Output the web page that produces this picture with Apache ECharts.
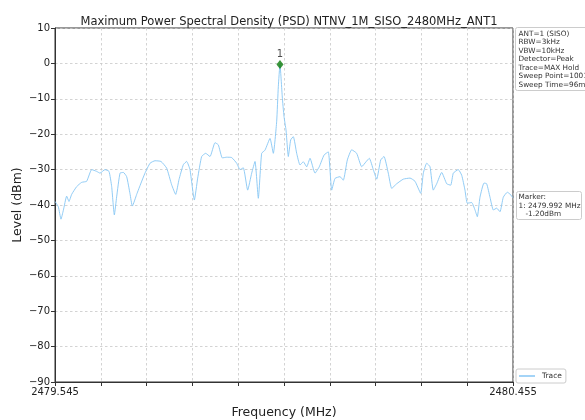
<!DOCTYPE html>
<html>
<head>
<meta charset="utf-8">
<script src="https://cdn.jsdelivr.net/npm/echarts@6/dist/echarts.min.js"></script>
<style>
  html, body { margin: 0; padding: 0; background: #ffffff; }
  #psd-chart { width: 585px; height: 420px; }
</style>
</head>
<body>
<div id="psd-chart"></div>
<script>
// trace (MAX Hold), frequency in MHz, level in dBm
const freqMHz = [
  2479.5450, 2479.5516, 2479.5569, 2479.5616, 2479.5682, 2479.5728, 2479.5781, 2479.5881,
  2479.5980, 2479.6079, 2479.6179, 2479.6278, 2479.6344, 2479.6443, 2479.6523, 2479.6576,
  2479.6629, 2479.6675, 2479.6742, 2479.6808, 2479.6874, 2479.6940, 2479.6987, 2479.7073,
  2479.7159, 2479.7238, 2479.7338, 2479.7437, 2479.7556, 2479.7669, 2479.7768, 2479.7848,
  2479.7914, 2479.8000, 2479.8066, 2479.8132, 2479.8219, 2479.8285, 2479.8364, 2479.8444,
  2479.8530, 2479.8629, 2479.8695, 2479.8775, 2479.8861, 2479.8960, 2479.9060, 2479.9126,
  2479.9192, 2479.9278, 2479.9358, 2479.9424, 2479.9490, 2479.9556, 2479.9623, 2479.9722,
  2479.9788, 2479.9854, 2479.9887, 2479.9920, 2479.9966, 2480.0000, 2480.0040, 2480.0086,
  2480.0133, 2480.0185, 2480.0252, 2480.0318, 2480.0384, 2480.0451, 2480.0517, 2480.0616,
  2480.0701, 2480.0795, 2480.0880, 2480.0948, 2480.1013, 2480.1113, 2480.1178, 2480.1258,
  2480.1345, 2480.1444, 2480.1544, 2480.1629, 2480.1695, 2480.1774, 2480.1842, 2480.1921,
  2480.1987, 2480.2072, 2480.2140, 2480.2239, 2480.2370, 2480.2504, 2480.2603, 2480.2716,
  2480.2768, 2480.2835, 2480.2901, 2480.2966, 2480.3034, 2480.3133, 2480.3233, 2480.3312,
  2480.3364, 2480.3463, 2480.3531, 2480.3596, 2480.3642, 2480.3729, 2480.3795, 2480.3841,
  2480.3894, 2480.3974, 2480.4027, 2480.4093, 2480.4159, 2480.4226, 2480.4292, 2480.4357,
  2480.4437, 2480.4490, 2480.4550
]
const levelDbm = [
  -39.0, -40.5, -44.0, -41.5, -37.5, -39.0, -37.0, -34.8,
  -33.6, -33.3, -30.0, -30.5, -31.0, -30.0, -30.5, -34.8,
  -42.8, -37.7, -31.0, -30.8, -32.0, -36.8, -40.3, -37.0,
  -33.8, -31.0, -28.2, -27.5, -27.7, -29.6, -34.3, -37.0,
  -32.8, -28.6, -27.7, -30.0, -38.6, -32.4, -26.3, -25.4,
  -26.3, -22.4, -23.0, -26.7, -26.5, -26.6, -28.2, -30.0,
  -29.5, -35.8, -31.0, -27.7, -38.1, -25.4, -24.5, -21.2,
  -25.4, -16.5, -6.6, -0.3, -9.5, -15.0, -18.8, -26.3,
  -21.6, -20.7, -25.4, -28.7, -27.8, -29.2, -26.8, -31.0,
  -29.2, -25.9, -25.0, -35.8, -32.5, -32.0, -33.0, -27.3,
  -24.4, -25.4, -29.2, -27.8, -26.8, -30.0, -32.7, -27.3,
  -26.3, -31.0, -35.3, -34.0, -32.7, -32.4, -33.3, -36.7,
  -31.0, -28.2, -29.2, -35.8, -34.0, -30.8, -34.0, -34.4,
  -31.0, -30.0, -31.6, -35.8, -39.5, -39.3, -41.4, -43.3,
  -37.8, -33.8, -34.0, -37.8, -41.4, -40.9, -41.9, -37.8,
  -36.4, -36.9, -38.0
]
const startMHz = 2479.545
const stopMHz = 2480.455
const levelMin = -90
const levelMax = 10
const levelStep = 10
const markerFreq = 2479.992
const markerLevel = -0.3 // where the diamond sits in the picture
const infoLines = [
  'ANT=1 (SISO)',
  'RBW=3kHz',
  'VBW=10kHz',
  'Detector=Peak',
  'Trace=MAX Hold',
  'Sweep Point=1001',
  'Sweep Time=96ms'
]
const markerLines = ['Marker:', '1: 2479.992 MHz', '   -1.20dBm']

// axis is drawn as kHz offset from start so ticks start at 0
const spanKHz = Math.round((stopMHz - startMHz) * 1000)
const toKHz = f => (f - startMHz) * 1000
const traceData = freqMHz.map((f, i) => [toKHz(f), levelDbm[i]])

const FONT = 'DejaVu Sans'
const myChart = echarts.init(document.getElementById('psd-chart'))

const options = {
  animation: false,
  backgroundColor: '#ffffff',
  title: {
    text: 'Maximum Power Spectral Density (PSD) NTNV_1M_SISO_2480MHz_ANT1',
    left: 284,
    top: 11,
    textAlign: 'center',
    textStyle: { fontFamily: FONT, fontSize: 11.5, fontWeight: 'normal', color: '#222' }
  },
  grid: {
    left: 55,
    right: 72,
    top: 28,
    bottom: 38,
    outerBoundsMode: 'none',
    show: true,
    borderColor: '#333',
    borderWidth: 1
  },
  legend: {
    data: ['Trace'],
    left: 516,
    top: 369,
    padding: [3, 4, 3, 3],
    itemWidth: 16,
    itemHeight: 1.5,
    itemGap: 4,
    icon: 'rect',
    borderColor: '#ccc',
    borderWidth: 1,
    borderRadius: 2,
    textStyle: { fontFamily: FONT, fontSize: 7.5, color: '#333', padding: [0, 0, 0, 2] }
  },
  xAxis: {
    type: 'value',
    min: 0,
    max: spanKHz,
    interval: spanKHz / 10,
    name: 'Frequency (MHz)',
    nameLocation: 'middle',
    nameGap: 24,
    nameTextStyle: { fontFamily: FONT, fontSize: 12.5, color: '#222' },
    axisLine: { show: true, onZero: false, lineStyle: { color: '#333', width: 1 } },
    axisTick: { show: true, inside: false, length: 4, lineStyle: { color: '#333' } },
    axisLabel: {
      show: true,
      showMinLabel: true,
      showMaxLabel: true,
      margin: 5,
      fontFamily: FONT,
      fontSize: 10,
      color: '#222',
      formatter: v => {
        if (Math.abs(v) < 1e-6) return startMHz.toFixed(3)
        if (Math.abs(v - spanKHz) < 1e-6) return stopMHz.toFixed(3)
        return ''
      }
    },
    splitLine: { show: true, lineStyle: { color: '#c8c8c8', type: [2.5, 2.5], width: 0.8 } }
  },
  yAxis: {
    type: 'value',
    min: levelMin,
    max: levelMax,
    interval: levelStep,
    axisLine: { show: true, onZero: false, lineStyle: { color: '#333', width: 1 } },
    axisTick: { show: true, inside: false, length: 4, lineStyle: { color: '#333' } },
    axisLabel: {
      margin: 5,
      fontFamily: FONT,
      fontSize: 10,
      color: '#222',
      formatter: v => (v < 0 ? '\u2212' + Math.abs(v) : String(v))
    },
    splitLine: { show: true, lineStyle: { color: '#c8c8c8', type: [2.5, 2.5], width: 0.8 } }
  },
  series: [
    {
      name: 'Trace',
      type: 'line',
      data: traceData,
      showSymbol: false,
      smooth: 0.15,
      lineStyle: { color: '#86c6f4', width: 0.9 },
      itemStyle: { color: '#86c6f4' },
      z: 2
    },
    {
      name: 'Marker',
      type: 'scatter',
      data: [[toKHz(markerFreq), markerLevel]],
      symbol: 'diamond',
      symbolSize: [7, 9],
      itemStyle: { color: '#0a7a0a' },
      label: {
        show: true,
        position: 'top',
        distance: 1,
        formatter: '1',
        fontFamily: FONT,
        fontSize: 10,
        color: '#222'
      },
      z: 3
    }
  ],
  graphic: [
    {
      // y axis title, placed by hand so it sits close to the tick labels
      type: 'text',
      x: 18,
      y: 205,
      rotation: Math.PI / 2,
      style: {
        text: 'Level (dBm)',
        font: '12.5px "DejaVu Sans"',
        fill: '#222',
        align: 'center',
        verticalAlign: 'middle'
      }
    },
    {
      type: 'group',
      left: 515,
      top: 27,
      children: [
        {
          type: 'rect',
          shape: { x: 0, y: 0, width: 80, height: 63, r: 2 },
          style: { fill: '#fff', stroke: '#ccc', lineWidth: 1 }
        },
        {
          type: 'text',
          x: 3,
          y: 2,
          style: {
            text: infoLines.join('\n'),
            font: '7.3px "DejaVu Sans"',
            lineHeight: 8.5,
            fill: '#333'
          }
        }
      ]
    },
    {
      type: 'group',
      left: 516,
      top: 191,
      children: [
        {
          type: 'rect',
          shape: { x: 0, y: 0, width: 65, height: 28, r: 2 },
          style: { fill: '#fff', stroke: '#ccc', lineWidth: 1 }
        },
        {
          type: 'text',
          x: 2,
          y: 1,
          style: {
            text: markerLines.join('\n'),
            font: '7.3px "DejaVu Sans"',
            lineHeight: 8.8,
            fill: '#333'
          }
        }
      ]
    }
  ]
}
myChart.setOption(options)
</script>
</body>
</html>
